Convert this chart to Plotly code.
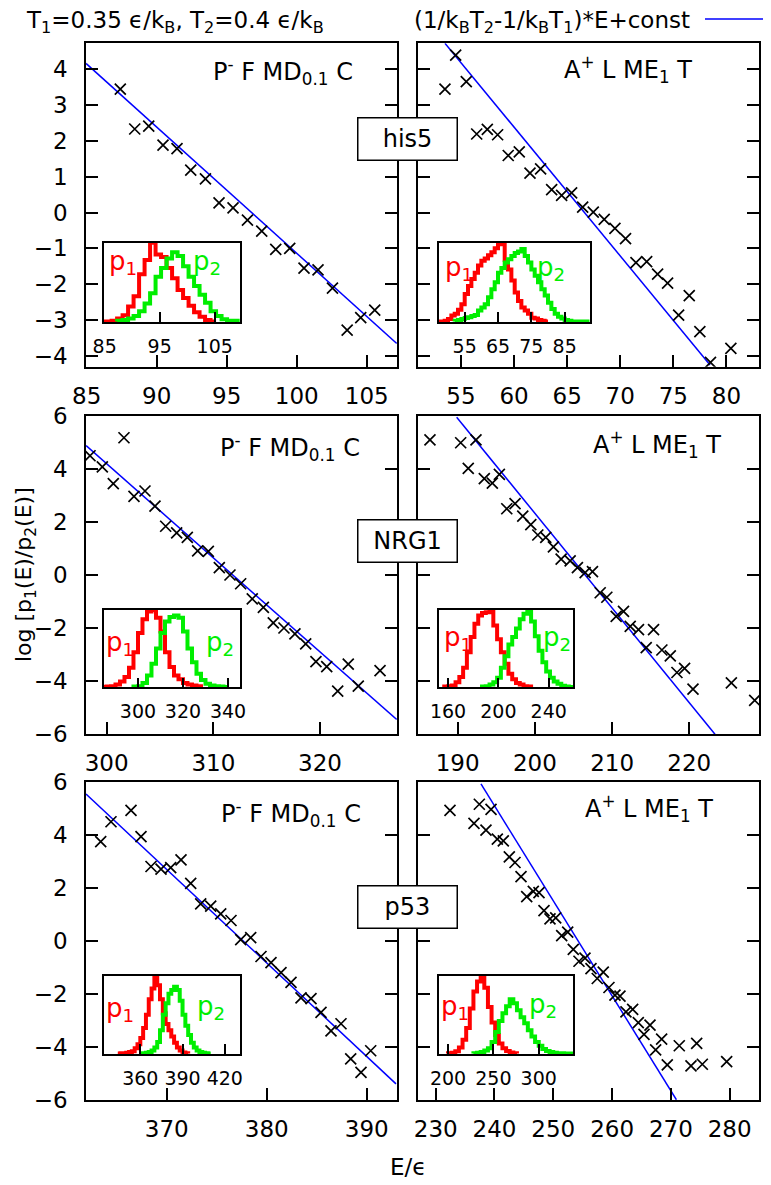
import plotly.graph_objects as go

# The page shows the figure inside the browser's default 8px body margin; all pixel
# positions below are reference-image pixels, shifted by OFF into figure pixels.
OFF = 8
W, H = 771 - OFF, 1185 - OFF

# ---------------- data ----------------
# his5, P- F MD0.1 C
his5_P_E = [87.4, 88.43, 89.43, 90.45, 91.45, 92.43, 93.48, 94.45, 95.45, 96.48, 97.5, 98.5,
            99.5, 100.52, 101.52, 102.55, 103.6, 104.57, 105.57]
his5_P_v = [3.44, 2.33, 2.41, 1.88, 1.78, 1.18, 0.94, 0.27, 0.13, -0.21, -0.52, -1.03,
            -1.0, -1.55, -1.60, -2.11, -3.28, -2.93, -2.72]
his5_P_fitE = [84.95, 107.14]
his5_P_fitV = [4.16, -3.65]

# his5, A+ L ME1 T
his5_A_E = [53.49, 54.5, 55.5, 56.48, 57.48, 58.45, 59.45, 60.49, 61.5, 62.5, 63.54, 64.48,
            65.42, 66.46, 67.46, 68.49, 69.5, 70.5, 71.48, 72.49, 73.52, 74.46, 75.5, 76.5,
            77.5, 78.5, 80.42]
his5_A_v = [3.44, 4.39, 3.65, 2.19, 2.32, 2.17, 1.59, 1.69, 1.10, 1.22, 0.64, 0.48,
            0.55, 0.15, 0.01, -0.19, -0.44, -0.73, -1.40, -1.37, -1.72, -1.97, -2.86, -2.32,
            -3.32, -4.18, -3.79]
his5_A_fitE = [53.49, 78.46]
his5_A_fitV = [4.72, -4.25]

# NRG1, P- F MD0.1 C
nrg1_P_E = [298.44, 299.59, 300.62, 301.62, 302.56, 303.59, 304.53, 305.53, 306.56, 307.56,
            308.53, 309.53, 310.56, 311.56, 312.56, 313.65, 314.69, 315.62, 316.62, 317.65,
            318.66, 319.62, 320.63, 321.66, 322.65, 323.59, 325.63]
nrg1_P_v = [4.50, 4.08, 3.45, 5.18, 2.97, 3.17, 2.60, 1.84, 1.59, 1.42,
            0.91, 0.89, 0.28, 0.0, -0.33, -0.90, -1.22, -1.81, -2.0, -2.22,
            -2.60, -3.27, -3.46, -4.38, -3.36, -4.19, -3.61]
nrg1_P_fitE = [298.07, 327.19]
nrg1_P_fitV = [4.88, -5.45]

# NRG1, A+ L ME1 T
nrg1_A_E = [186.41, 190.39, 191.37, 192.37, 193.45, 194.49, 195.40, 196.36, 197.43, 198.43,
            199.47, 200.38, 201.41, 202.4, 203.4, 204.57, 205.51, 206.51, 207.46, 208.46,
            209.32, 210.53, 211.48, 212.35, 213.42, 214.42, 215.37, 216.45, 217.54, 218.4,
            219.39, 220.48, 225.45, 228.47]
nrg1_A_v = [5.10, 4.99, 4.02, 5.10, 3.64, 3.47, 3.80, 2.50, 2.69, 2.22,
            1.90, 1.51, 1.42, 1.06, 0.60, 0.53, 0.28, 0.09, 0.13, -0.67,
            -0.84, -1.56, -1.37, -1.94, -2.06, -2.74, -2.06, -2.83, -3.05, -3.68,
            -3.52, -4.31, -4.07, -4.73]
nrg1_A_fitE = [189.87, 223.33]
nrg1_A_fitV = [5.95, -6.01]

# p53, P- F MD0.1 C
p53_P_E = [363.4, 364.43, 366.43, 367.43, 368.43, 369.43, 370.4, 371.43, 372.4, 373.4,
           374.4, 375.4, 376.43, 377.4, 378.4, 379.43, 380.43, 381.43, 382.43, 383.43,
           384.43, 385.43, 386.43, 387.43, 388.4, 389.43, 390.4]
p53_P_v = [3.76, 4.51, 4.94, 3.95, 2.82, 2.72, 2.78, 3.07, 2.18, 1.41,
           1.32, 1.03, 0.78, 0.06, 0.13, -0.58, -0.81, -1.19, -1.56, -2.14,
           -2.17, -2.69, -3.39, -3.12, -4.45, -4.96, -4.14]
p53_P_fitE = [361.93, 392.93]
p53_P_fitV = [5.56, -5.39]

# p53, A+ L ME1 T
p53_A_E = [232.43, 236.51, 237.42, 238.55, 239.41, 240.48, 241.5, 242.52, 243.49, 244.51,
           245.48, 246.6, 247.57, 248.42, 249.44, 250.41, 251.43, 252.45, 253.4, 254.37,
           255.39, 256.41, 257.48, 258.5, 259.47, 260.49, 261.34, 262.36, 263.5, 264.46,
           265.43, 266.45, 267.41, 268.43, 269.39, 271.43, 273.42, 274.39, 275.35, 279.49]
p53_A_v = [4.94, 4.45, 5.17, 4.19, 4.98, 3.85, 3.79, 3.18, 2.97, 2.44,
           1.68, 1.88, 1.83, 1.15, 0.84, 0.88, 0.21, 0.34, -0.31, -0.76,
           -0.64, -1.04, -1.41, -1.17, -1.75, -2.04, -2.08, -2.67, -2.58, -3.08,
           -3.52, -3.17, -4.11, -3.70, -4.67, -3.95, -4.71, -3.86, -4.65, -4.55]
p53_A_fitE = [237.7, 270.94]
p53_A_fitV = [5.94, -5.99]

# inset histograms: first bin edge, bin width, heights
his5_P_p1_start, his5_P_p1_w = 85.25, 1.0
his5_P_p1 = [0, 0.01, 0.04, 0.08, 0.19, 0.32, 0.6, 0.78, 1.0, 0.85, 0.82, 0.68, 0.55, 0.4,
             0.3, 0.2, 0.12, 0.06, 0.02, 0]
his5_P_p2_start, his5_P_p2_w = 87.25, 1.0
his5_P_p2 = [0.01, 0.02, 0.04, 0.07, 0.13, 0.23, 0.36, 0.57, 0.68, 0.8, 0.88, 0.83, 0.7,
             0.57, 0.45, 0.34, 0.24, 0.13, 0.07, 0.03, 0.01, 0.01, 0]

his5_A_p1_start, his5_A_p1_w = 49.0, 1.0
his5_A_p1 = [0.01, 0.034, 0.076, 0.10, 0.15, 0.22, 0.35, 0.45, 0.54, 0.62, 0.71, 0.77, 0.80,
             0.84, 0.88, 0.93, 1.0, 0.98, 0.78, 0.66, 0.52, 0.37, 0.26, 0.18, 0.14, 0.10,
             0.05, 0.04, 0.02, 0.01, 0]
his5_A_p2_start, his5_A_p2_w = 52.0, 1.0
his5_A_p2 = [0.01, 0.02, 0.034, 0.045, 0.055, 0.07, 0.084, 0.14, 0.18, 0.22, 0.31, 0.41,
             0.50, 0.62, 0.68, 0.75, 0.79, 0.83, 0.87, 0.89, 0.92, 0.83, 0.75, 0.66, 0.58,
             0.50, 0.41, 0.33, 0.24, 0.16, 0.10, 0.06, 0.04, 0.02, 0.01, 0]

nrg1_P_p1_start, nrg1_P_p1_w = 286.0, 2.0
nrg1_P_p1 = [0.005, 0.01, 0.03, 0.07, 0.13, 0.25, 0.45, 0.7, 0.88, 0.98, 1.0, 0.9, 0.72,
             0.45, 0.26, 0.15, 0.1, 0.05, 0.03, 0.02, 0.01]
nrg1_P_p2_start, nrg1_P_p2_w = 298.0, 2.0
nrg1_P_p2 = [0.005, 0.01, 0.05, 0.15, 0.3, 0.5, 0.7, 0.85, 0.91, 0.93, 0.9, 0.72, 0.5,
             0.32, 0.17, 0.09, 0.04, 0.02, 0.01, 0.005, 0]

nrg1_A_p1_start, nrg1_A_p1_w = 157.0, 3.0
nrg1_A_p1 = [0.005, 0.01, 0.02, 0.06, 0.13, 0.25, 0.45, 0.65, 0.82, 0.93, 0.96, 0.97,
             1.0, 0.8, 0.62, 0.45, 0.3, 0.17, 0.1, 0.05, 0.03, 0.01, 0.005]
nrg1_A_p2_start, nrg1_A_p2_w = 187.0, 3.0
nrg1_A_p2 = [0.005, 0.01, 0.03, 0.06, 0.12, 0.25, 0.4, 0.55, 0.65, 0.76, 0.88, 0.95, 1.0,
             0.85, 0.66, 0.47, 0.32, 0.2, 0.12, 0.07, 0.04, 0.015, 0.005, 0]

p53_P_p1_start, p53_P_p1_w = 344.0, 2.0
p53_P_p1 = [0.0, 0.005, 0.005, 0.01, 0.02, 0.03, 0.07, 0.12, 0.2, 0.33, 0.5, 0.7, 0.84, 1.0,
            0.88, 0.7, 0.52, 0.38, 0.3, 0.22, 0.14, 0.08, 0.04, 0.015, 0.005]
p53_P_p2_start, p53_P_p2_w = 360.0, 2.0
p53_P_p2 = [0.0, 0.005, 0.01, 0.02, 0.04, 0.08, 0.15, 0.3, 0.5, 0.65, 0.77, 0.82, 0.86, 0.82,
            0.68, 0.5, 0.36, 0.24, 0.14, 0.08, 0.04, 0.02, 0.01, 0.005, 0.0]

p53_A_p1_start, p53_A_p1_w = 200.0, 4.0
p53_A_p1 = [0.005, 0.01, 0.03, 0.08, 0.18, 0.33, 0.58, 0.8, 0.93, 1.0, 0.85, 0.6, 0.4,
            0.24, 0.13, 0.07, 0.035, 0.015, 0.005]
p53_A_p2_start, p53_A_p2_w = 228.0, 4.0
p53_A_p2 = [0.005, 0.01, 0.02, 0.04, 0.07, 0.15, 0.28, 0.42, 0.52, 0.61, 0.7, 0.65, 0.56,
            0.47, 0.39, 0.3, 0.22, 0.15, 0.1, 0.06, 0.035, 0.02, 0.01, 0.005, 0.005, 0]

# axis ranges and ticks
main_xranges = [[84.95, 107.16], [50.98, 83.07], [298.06, 327.22],
                [184.9, 229.03], [361.93, 393.03], [227.04, 284.99]]
main_yranges = [[-4.30, 4.72], [-4.30, 4.72], [-6, 6], [-6, 6], [-6, 6], [-6, 6]]
main_xticks = [[85, 90, 95, 100, 105], [55, 60, 65, 70, 75, 80], [300, 310, 320],
               [190, 200, 210, 220], [370, 380, 390], [230, 240, 250, 260, 270, 280]]
main_yticks = [[-4, -3, -2, -1, 0, 1, 2, 3, 4]] * 2 + [[-6, -4, -2, 0, 2, 4, 6]] * 4
inset_xranges = [[84.87, 109.55], [47.2, 92.5], [284.9, 345.2],
                 [152.6, 259.3], [334.2, 430.6], [189.7, 337.8]]
inset_xticks = [[85, 95, 105], [55, 65, 75, 85], [300, 320, 340],
                [160, 200, 240], [360, 390, 420], [200, 250, 300]]

proteins = ["his5", "NRG1", "p53"]
label_P = "P<sup>-</sup> F MD<sub>0.1</sub> C"
label_A = "A<sup>+</sup> L ME<sub>1</sub> T"

# ---------------- geometry (reference pixels) ----------------
cols_px = [(86, 397), (418.3, 759)]
rows_px = [(43.3, 366.7), (416, 734), (782.3, 1100)]
inset_cols_px = [(104, 239.7), (438.7, 589.7), (104, 239.7), (438.7, 573), (104, 239.7), (438.7, 573)]
inset_rows_px = [(242.7, 322), (242.7, 322), (610, 687.3), (610, 687.3), (976, 1054), (976, 1054)]

def px(x):
    return (x - OFF) / W

def py(y):
    return 1 - (y - OFF) / H

def xd(a, b):
    return [px(a), px(b)]

def yd(t, b):
    return [py(b), py(t)]

FONT = "DejaVu Sans"
fig = go.Figure()

main_data = [(his5_P_E, his5_P_v, his5_P_fitE, his5_P_fitV),
             (his5_A_E, his5_A_v, his5_A_fitE, his5_A_fitV),
             (nrg1_P_E, nrg1_P_v, nrg1_P_fitE, nrg1_P_fitV),
             (nrg1_A_E, nrg1_A_v, nrg1_A_fitE, nrg1_A_fitV),
             (p53_P_E, p53_P_v, p53_P_fitE, p53_P_fitV),
             (p53_A_E, p53_A_v, p53_A_fitE, p53_A_fitV)]

hists = [((his5_P_p1_start, his5_P_p1_w, his5_P_p1), (his5_P_p2_start, his5_P_p2_w, his5_P_p2)),
         ((his5_A_p1_start, his5_A_p1_w, his5_A_p1), (his5_A_p2_start, his5_A_p2_w, his5_A_p2)),
         ((nrg1_P_p1_start, nrg1_P_p1_w, nrg1_P_p1), (nrg1_P_p2_start, nrg1_P_p2_w, nrg1_P_p2)),
         ((nrg1_A_p1_start, nrg1_A_p1_w, nrg1_A_p1), (nrg1_A_p2_start, nrg1_A_p2_w, nrg1_A_p2)),
         ((p53_P_p1_start, p53_P_p1_w, p53_P_p1), (p53_P_p2_start, p53_P_p2_w, p53_P_p2)),
         ((p53_A_p1_start, p53_A_p1_w, p53_A_p1), (p53_A_p2_start, p53_A_p2_w, p53_A_p2))]

def step_xy(start, w, h, lo=None, hi=None):
    xs, ys = [], []
    if lo is not None:
        xs.append(lo); ys.append(0)
    xs.append(start); ys.append(0)
    for i, v in enumerate(h):
        xs.append(start + i * w); ys.append(v)
    end = start + len(h) * w
    xs.append(end); ys.append(h[-1])
    xs.append(end); ys.append(0)
    if hi is not None:
        xs.append(hi); ys.append(0)
    return xs, ys

# extension of zero baselines to the inset frame
p1_left = [True, True, True, False, False, False]
p2_right = [False, True, False, True, False, True]

for i in range(6):
    k = i + 1
    ax = "" if k == 1 else str(k)
    E, v, fE, fV = main_data[i]
    fig.add_trace(go.Scatter(x=fE, y=fV, mode="lines", line=dict(color="#0000ff", width=1.5),
                             xaxis="x" + ax, yaxis="y" + ax, showlegend=False, hoverinfo="skip"))
    fig.add_trace(go.Scatter(x=E, y=v, mode="markers",
                             marker=dict(symbol="x-thin", size=11, color="black",
                                         line=dict(color="black", width=1.7)),
                             xaxis="x" + ax, yaxis="y" + ax, showlegend=False))

for i in range(6):
    k = i + 7
    ax = str(k)
    (s1, w1, h1), (s2, w2, h2) = hists[i]
    xr = inset_xranges[i]
    x1, y1 = step_xy(s1, w1, h1, lo=xr[0] if p1_left[i] else None)
    x2, y2 = step_xy(s2, w2, h2, hi=xr[1] if p2_right[i] else None)
    fig.add_trace(go.Scatter(x=x1, y=y1, mode="lines", line=dict(color="#ff0000", width=4, shape="hv"),
                             xaxis="x" + ax, yaxis="y" + ax, showlegend=False, hoverinfo="skip"))
    fig.add_trace(go.Scatter(x=x2, y=y2, mode="lines", line=dict(color="#00ee00", width=4, shape="hv"),
                             xaxis="x" + ax, yaxis="y" + ax, showlegend=False, hoverinfo="skip"))

layout = dict(width=W, height=H, margin=dict(l=0, r=0, t=0, b=0, autoexpand=False),
              paper_bgcolor="white", plot_bgcolor="rgba(0,0,0,0)",
              font=dict(family=FONT, color="black", size=23), showlegend=False)

for i in range(6):
    k = i + 1
    r, c = divmod(i, 2)
    xa = "xaxis" if k == 1 else "xaxis%d" % k
    ya = "yaxis" if k == 1 else "yaxis%d" % k
    layout[xa] = dict(domain=xd(*cols_px[c]), range=main_xranges[i], anchor="y" if k == 1 else "y%d" % k,
                      showline=True, linecolor="black", linewidth=1.5, mirror=True, automargin=False,
                      ticks="inside", ticklen=12, tickwidth=1.5, tickcolor="black",
                      tickvals=main_xticks[i], showgrid=False, zeroline=False,
                      tickfont=dict(size=23, family=FONT), ticklabelstandoff=8)
    layout[ya] = dict(domain=yd(*rows_px[r]), range=main_yranges[i], anchor="x" if k == 1 else "x%d" % k,
                      showline=True, linecolor="black", linewidth=1.5, mirror="ticks", automargin=False,
                      ticks="inside", ticklen=12, tickwidth=1.5, tickcolor="black",
                      tickvals=main_yticks[i], showgrid=False, zeroline=False,
                      showticklabels=(c == 0), tickfont=dict(size=23, family=FONT),
                      ticklabelstandoff=12)

for i in range(6):
    k = i + 7
    layout["xaxis%d" % k] = dict(domain=xd(*inset_cols_px[i]), range=inset_xranges[i], anchor="y%d" % k,
                                 showline=True, linecolor="black", linewidth=1.5, mirror=True,
                                 automargin=False,
                                 ticks="inside", ticklen=10, tickwidth=1.5, tickcolor="black",
                                 tickvals=inset_xticks[i], showgrid=False, zeroline=False,
                                 tickfont=dict(size=19, family=FONT), ticklabelstandoff=6)
    layout["yaxis%d" % k] = dict(domain=yd(*inset_rows_px[i]), range=[-0.005, 1.0], anchor="x%d" % k,
                                 showline=True, linecolor="black", linewidth=1.5, mirror=True,
                                 automargin=False,
                                 ticks="", showticklabels=False, showgrid=False, zeroline=False)

fig.update_layout(**layout)

ann = []
def A(text, x, y, xanchor="center", yanchor="middle", size=23, color="black", **kw):
    d = dict(text=text, x=px(x), y=py(y), xref="paper", yref="paper", showarrow=False,
             xanchor=xanchor, yanchor=yanchor, font=dict(size=size, color=color, family=FONT))
    d.update(kw)
    ann.append(d)

# panel labels
A(label_P, 355, 72, xanchor="right", size=24)
A(label_A, 694, 70, xanchor="right", size=24)
A(label_P, 362, 447, xanchor="right", size=24)
A(label_A, 723, 445, xanchor="right", size=24)
A(label_P, 363, 813, xanchor="right", size=24)
A(label_A, 715, 808, xanchor="right", size=24)

# protein boxes
for name, yc in zip(proteins, [139, 541, 906.7]):
    A(name, 407, yc, size=24, bordercolor="black", borderwidth=1.5, bgcolor="white",
      width=98, height=41, borderpad=0)

# p1 / p2 labels
p_pos = [((123, 263), (207, 263)), ((459, 268), (551, 268)), ((120, 643), (220, 643)),
         ((458, 638), (557, 638)), ((120, 1009), (211, 1007)), ((455, 1007), (543, 1005))]
for (a, b) in p_pos:
    A("p<sub>1</sub>", a[0], a[1], color="#ff0000", size=26)
    A("p<sub>2</sub>", b[0], b[1], color="#00ee00", size=26)

# header (kept inside the drawable area)
A("T<sub>1</sub>=0.35 ϵ/k<sub>B</sub>, T<sub>2</sub>=0.4 ϵ/k<sub>B</sub>", 24, 22, xanchor="left", size=23)
A("(1/k<sub>B</sub>T<sub>2</sub>-1/k<sub>B</sub>T<sub>1</sub>)*E+const", 692, 22, xanchor="right", size=23)

# axis titles
A("log [p<sub>1</sub>(E)/p<sub>2</sub>(E)]", 25, 575, textangle=-90, size=22)
A("E/ϵ", 408, 1167, size=23)

fig.update_layout(annotations=ann,
                  shapes=[dict(type="line", xref="paper", yref="paper", x0=px(705), x1=px(767),
                               y0=py(19), y1=py(19), line=dict(color="#0000ff", width=1.5))])

fig.write_html("out.html")
